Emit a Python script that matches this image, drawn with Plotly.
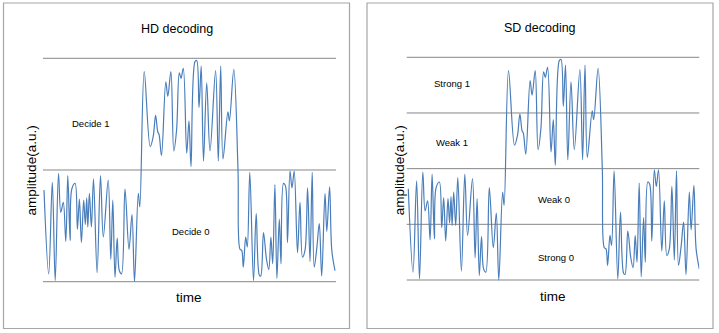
import plotly.graph_objects as go

# ---- data ----
time = [0.0, 4.7, 8.3, 11.2, 14.5, 16.8, 19.3, 21.8, 23.8, 26.1, 27.8, 31.1, 33.4, 35.4,
        37.4, 39.7, 41.3, 42.7, 43.8, 45.4, 47.4, 49.5, 53.1, 56.5, 59.3, 64.2, 66.8,
        68.8, 71.0, 73.2, 75.3, 77.5, 81.0, 85.0, 88.0, 90.5, 94.3, 95.8,
        100.2, 106.2, 109.2, 111.6, 113.8, 115.0, 117.5, 121.8, 123.8, 126.9, 129.8,
        132.6, 135.3, 137.0, 139.3, 142.7, 145.0, 147.0, 151.0, 152.7, 155.0, 157.2,
        159.5, 162.7, 166.0, 171.6, 174.3, 176.7, 179.0, 183.9, 185.4, 189.8, 194.0,
        196.0, 197.7, 199.3, 201.7, 203.3, 205.8, 209.5, 212.2, 215.3, 216.7, 219.5,
        222.5, 224.8, 226.9, 228.7, 230.9, 232.9, 235.3, 237.0, 239.5, 241.4, 243.5,
        246.0, 248.0, 250.2, 253.5, 256.0, 258.5, 261.0, 263.6, 266.0, 268.2, 270.2,
        272.8, 275.3, 277.7, 281.0, 282.8, 285.6, 287.8, 291.0]
amplitude = [0.82, 0.07, 0.89, 0.01, 0.97, 0.62, 0.71, 0.36, 0.95, 0.37, 0.83, 0.88, 0.47,
             0.74, 0.35, 0.73, 0.51, 0.75, 0.49, 0.79, 0.49, 0.92, 0.08, 0.95, 0.40, 0.91,
             0.20, 0.73, 0.04, 0.39, 0.10, 0.07, 0.83, 0.29, 0.60, 0.0, 0.79, 0.67,
             1.88, 1.21, 1.30, 1.49, 1.34, 1.32, 1.13, 1.79, 1.66, 1.88, 1.17, 1.36, 1.87,
             1.82, 1.91, 1.15, 1.44, 1.03, 1.97, 1.98, 1.56, 1.93, 1.08, 1.78, 1.17, 1.89,
             1.08, 1.93, 1.10, 1.52, 1.44, 1.90, 1.0, 0.29, 0.28, 0.13, 0.40, 0.31, 0.98,
             0.01, 0.61, 0.06, 0.05, 0.44, 0.20, 0.11, 0.40, 0.16, 0.87, 0.03, 0.56, 0.16,
             0.88, 0.86, 0.35, 0.99, 0.84, 0.99, 0.26, 0.71, 0.22, 0.28, 0.84, 0.18, 0.98,
             0.13, 0.30, 0.52, 0.05, 0.79, 0.45, 0.85, 0.28, 0.10]

hd_levels = [0, 1, 2]
sd_levels = [0, 0.5, 1, 1.5, 2]
hd_labels = ["Decide 1", "Decide 0"]
sd_labels = ["Strong 1", "Weak 1", "Weak 0", "Strong 0"]
titles = ["HD decoding", "SD decoding"]

W, H = 719, 333
def px(x):
    return x / W
def py(y):
    return 1 - y / H

LINE_BLUE = "#4A7EBB"
GRID = "#868686"
FONT = "Liberation Sans, Arial, sans-serif"

fig = go.Figure()
for xa, ya in [("x", "y"), ("x2", "y2")]:
    fig.add_trace(go.Scatter(x=time, y=amplitude, mode="lines",
                             line=dict(color=LINE_BLUE, width=1.2, shape="spline", smoothing=1.0),
                             xaxis=xa, yaxis=ya, showlegend=False, hoverinfo="skip"))

pad = 0.05
def ydom(top, bot):
    u = (bot - top) / 2
    return [py(bot + pad * u), py(top - pad * u)]

ax = dict(showgrid=False, zeroline=False, showticklabels=False, ticks="", showline=False, fixedrange=True)
fig.update_layout(
    width=W, height=H, margin=dict(l=0, r=0, t=0, b=0),
    paper_bgcolor="white", plot_bgcolor="rgba(0,0,0,0)",
    xaxis=dict(domain=[px(43), px(336)], range=[-1, 292], **ax),
    yaxis=dict(domain=ydom(58.3, 281.7), range=[-pad, 2 + pad], **ax),
    xaxis2=dict(domain=[px(406.7), px(699.3)], range=[-1.6, 291], anchor="y2", **ax),
    yaxis2=dict(domain=ydom(57.3, 280.0), range=[-pad, 2 + pad], anchor="x2", **ax),
    font=dict(family=FONT, color="#000000"),
)

shapes = []
for lv in hd_levels:
    shapes.append(dict(type="line", xref="x domain", yref="y", x0=0, x1=1, y0=lv, y1=lv,
                       line=dict(color=GRID, width=1), layer="below"))
for lv in sd_levels:
    shapes.append(dict(type="line", xref="x2 domain", yref="y2", x0=0, x1=1, y0=lv, y1=lv,
                       line=dict(color=GRID, width=1), layer="below"))
for (x0, x1) in [(3.5, 349.5), (367, 713)]:
    shapes.append(dict(type="rect", xref="paper", yref="paper", x0=px(x0), x1=px(x1), y0=py(328.5), y1=py(3),
                       line=dict(color="#A6A6A6", width=1.2), fillcolor="rgba(0,0,0,0)"))
fig.update_layout(shapes=shapes)

ann = []
def text(t, x, y, size, angle=0):
    ann.append(dict(text=t, x=px(x), y=py(y), xref="paper", yref="paper", showarrow=False,
                    xanchor="center", yanchor="middle", textangle=angle,
                    font=dict(size=size, family=FONT, color="#000000")))

text(titles[0], 176.7, 29.3, 12.5)
text(titles[1], 540, 28.3, 12.5)
text(hd_labels[0], 91, 123.3, 9.5)
text(hd_labels[1], 191, 231, 9.5)
text(sd_labels[0], 451.7, 83.3, 9.5)
text(sd_labels[1], 451.7, 142.7, 9.5)
text(sd_labels[2], 554, 199, 9.5)
text(sd_labels[3], 556, 257.7, 9.5)
text("time", 188.7, 297.7, 13.5)
text("time", 553.3, 296.7, 13.5)
text("amplitude(a.u.)", 31.7, 170.7, 13.5, -90)
text("amplitude(a.u.)", 399.3, 170, 13.5, -90)
fig.update_layout(annotations=ann)

fig.write_html("out.html")
